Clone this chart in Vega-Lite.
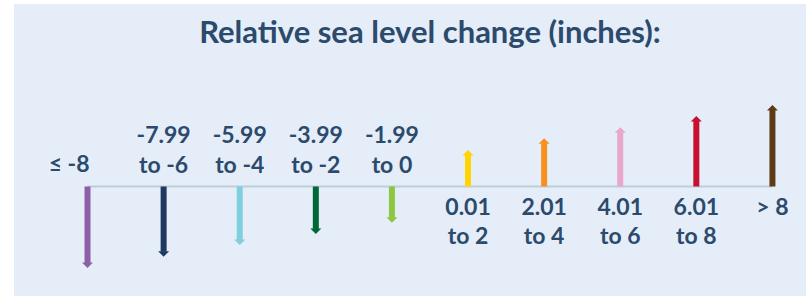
{
  "$schema": "https://vega.github.io/schema/vega-lite/v6.json",
  "autosize": {"type": "none"},
  "padding": {"left": 14, "top": 4, "right": 0, "bottom": 0},
  "width": 792,
  "height": 292,
  "background": "#ffffff",
  "config": {"view": {"stroke": null, "fill": "#e5edf8"}},
  "datasets": {
    "items": [
      {"i": 0, "label": "≤ -8", "v": -81.5},
      {"i": 1, "label": "-7.99\nto -6", "v": -70.2},
      {"i": 2, "label": "-5.99\nto -4", "v": -58.5},
      {"i": 3, "label": "-3.99\nto -2", "v": -47.5},
      {"i": 4, "label": "-1.99\nto 0", "v": -36.2},
      {"i": 5, "label": "0.01\nto 2", "v": 36.5},
      {"i": 6, "label": "2.01\nto 4", "v": 48.2},
      {"i": 7, "label": "4.01\nto 6", "v": 59.2},
      {"i": 8, "label": "6.01\nto 8", "v": 70.5},
      {"i": 9, "label": "> 8", "v": 81.5}
    ],
    "heading": [{"heading": "Relative sea level change (inches):"}]
  },
  "layer": [
    {
      "data": {"name": "items"},
      "layer": [
        {
          "mark": {"type": "rule", "color": "#b9d0dc", "strokeWidth": 2},
          "encoding": {
            "x": {"aggregate": "min", "field": "i", "type": "quantitative", "scale": {"domain": [-0.966, 9.441], "nice": false, "zero": false}, "axis": null},
            "x2": {"aggregate": "max", "field": "i"},
            "y": {"datum": 0, "type": "quantitative", "scale": {"domain": [-109.5, 182.5], "nice": false, "zero": false}, "axis": null}
          }
        },
        {
          "transform": [{"filter": "datum.v < 0"}],
          "mark": {"type": "rule", "strokeWidth": 6, "strokeCap": "butt", "yOffset": -5},
          "encoding": {
            "x": {"field": "i", "type": "quantitative"},
            "y": {"field": "v", "type": "quantitative"},
            "y2": {"datum": 0},
            "color": {"field": "label", "type": "nominal", "legend": null, "scale": {"domain": ["≤ -8", "-7.99\nto -6", "-5.99\nto -4", "-3.99\nto -2", "-1.99\nto 0", "0.01\nto 2", "2.01\nto 4", "4.01\nto 6", "6.01\nto 8", "> 8"], "range": ["#8e5ea6", "#1f3a5f", "#7fcfdc", "#006837", "#8dc63f", "#ffd400", "#f7901e", "#e9a8cb", "#c8102e", "#5e3a16"]}}
          }
        },
        {
          "transform": [{"filter": "datum.v > 0"}],
          "mark": {"type": "rule", "strokeWidth": 6, "strokeCap": "butt", "yOffset": 5},
          "encoding": {
            "x": {"field": "i", "type": "quantitative"},
            "y": {"field": "v", "type": "quantitative"},
            "y2": {"datum": 0},
            "color": {"field": "label", "type": "nominal"}
          }
        },
        {
          "transform": [{"filter": "datum.v < 0"}],
          "mark": {"type": "point", "filled": true, "opacity": 1, "shape": "M0,0L-1,-1L1,-1Z", "size": 121, "strokeWidth": 0},
          "encoding": {
            "x": {"field": "i", "type": "quantitative"},
            "y": {"field": "v", "type": "quantitative"},
            "color": {"field": "label", "type": "nominal"}
          }
        },
        {
          "transform": [{"filter": "datum.v > 0"}],
          "mark": {"type": "point", "filled": true, "opacity": 1, "shape": "M0,0L-1,1L1,1Z", "size": 121, "strokeWidth": 0},
          "encoding": {
            "x": {"field": "i", "type": "quantitative"},
            "y": {"field": "v", "type": "quantitative"},
            "color": {"field": "label", "type": "nominal"}
          }
        },
        {
          "transform": [{"filter": "datum.i >= 1 && datum.i <= 4"}],
          "mark": {"type": "text", "lineBreak": "\n", "baseline": "bottom", "align": "center", "dy": -39, "lineHeight": 30, "font": "Lato", "fontWeight": "bold", "fontSize": 23, "color": "#2b4a6c"},
          "encoding": {"x": {"field": "i", "type": "quantitative"}, "y": {"datum": 0, "type": "quantitative"}, "text": {"field": "label"}}
        },
        {
          "transform": [{"filter": "datum.i == 0"}],
          "mark": {"type": "text", "baseline": "bottom", "align": "right", "dx": 2, "dy": -10, "font": "Lato", "fontWeight": "bold", "fontSize": 23, "color": "#2b4a6c"},
          "encoding": {"x": {"field": "i", "type": "quantitative"}, "y": {"datum": 0, "type": "quantitative"}, "text": {"field": "label"}}
        },
        {
          "transform": [{"filter": "datum.i >= 5"}],
          "mark": {"type": "text", "lineBreak": "\n", "baseline": "top", "align": "center", "dy": 10.5, "lineHeight": 29, "font": "Lato", "fontWeight": "bold", "fontSize": 23, "color": "#2b4a6c"},
          "encoding": {"x": {"field": "i", "type": "quantitative"}, "y": {"datum": 0, "type": "quantitative"}, "text": {"field": "label"}}
        }
      ]
    },
    {
      "data": {"name": "heading"},
      "mark": {"type": "text", "baseline": "alphabetic", "align": "center", "font": "Lato", "fontSize": 31, "fontWeight": "bold", "color": "#2b4a6c"},
      "encoding": {
        "x": {"datum": 4.5, "type": "quantitative"},
        "y": {"datum": 143.5, "type": "quantitative"},
        "text": {"field": "heading"}
      }
    }
  ]
}
